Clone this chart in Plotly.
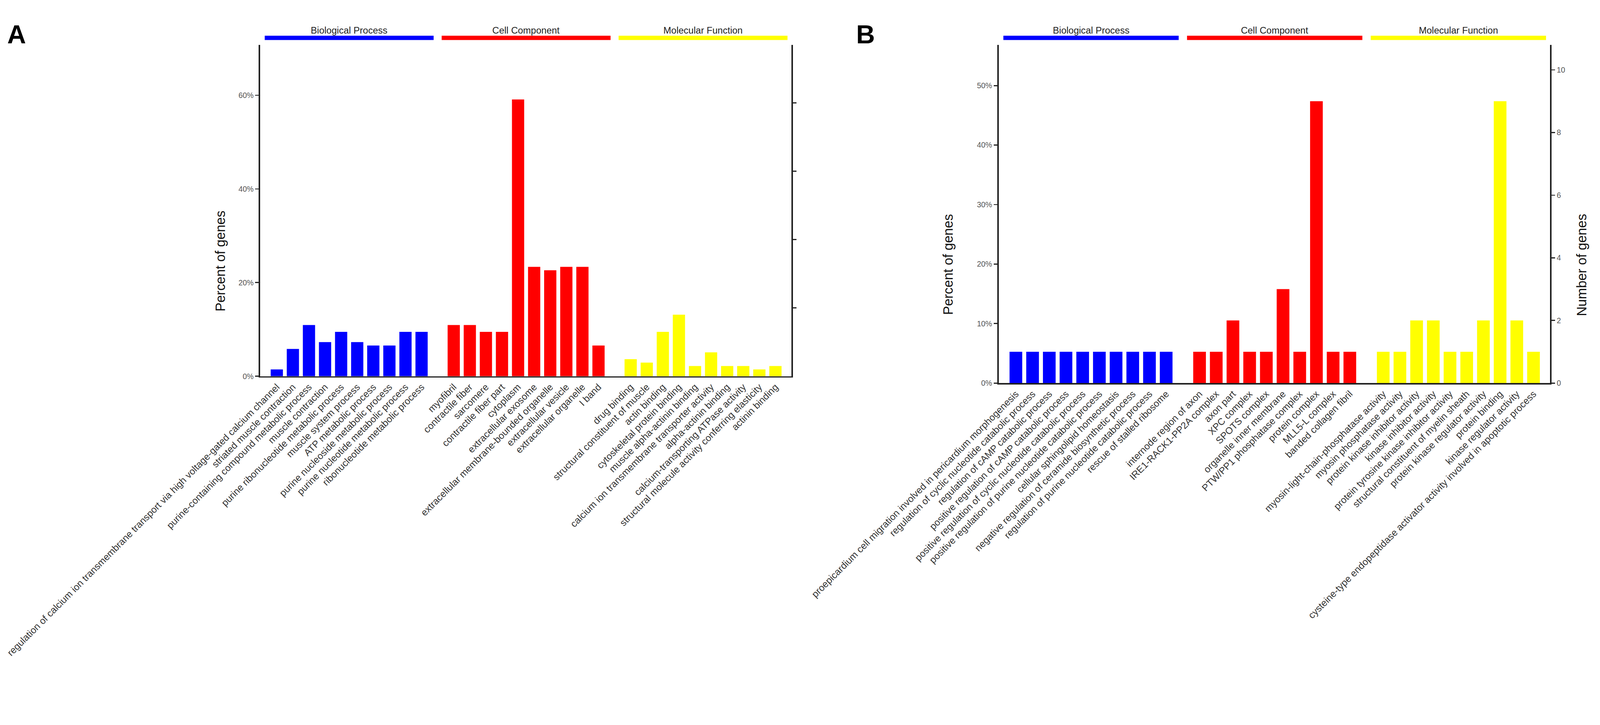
import plotly.graph_objects as go

W, H = 4433, 1857
FONT = "Liberation Sans, Arial, sans-serif"

group_names = ["Biological Process", "Cell Component", "Molecular Function"]
group_colors = ["#0000FF", "#FF0000", "#FFFF00"]

# ---- panel A ----
a_bp_terms = [
    "regulation of calcium ion transmembrane transport via high voltage-gated calcium channel",
    "striated muscle contraction",
    "purine-containing compound metabolic process",
    "muscle contraction",
    "purine ribonucleotide metabolic process",
    "muscle system process",
    "ATP metabolic process",
    "purine nucleoside metabolic process",
    "purine nucleotide metabolic process",
    "ribonucleotide metabolic process",
]
a_bp_pct = [1.46, 5.84, 10.95, 7.30, 9.49, 7.30, 6.57, 6.57, 9.49, 9.49]

a_cc_terms = [
    "myofibril",
    "contractile fiber",
    "sarcomere",
    "contractile fiber part",
    "cytoplasm",
    "extracellular exosome",
    "extracellular membrane-bounded organelle",
    "extracellular vesicle",
    "extracellular organelle",
    "I band",
]
a_cc_pct = [10.95, 10.95, 9.49, 9.49, 59.12, 23.36, 22.63, 23.36, 23.36, 6.57]

a_mf_terms = [
    "drug binding",
    "structural constituent of muscle",
    "actin binding",
    "cytoskeletal protein binding",
    "muscle alpha-actinin binding",
    "calcium ion transmembrane transporter activity",
    "alpha-actinin binding",
    "calcium-transporting ATPase activity",
    "structural molecule activity conferring elasticity",
    "actinin binding",
]
a_mf_pct = [3.65, 2.92, 9.49, 13.14, 2.19, 5.11, 2.19, 2.19, 1.46, 2.19]

# ---- panel B ----
b_bp_terms = [
    "proepicardium cell migration involved in pericardium morphogenesis",
    "regulation of cyclic nucleotide catabolic process",
    "regulation of cAMP catabolic process",
    "positive regulation of cAMP catabolic process",
    "positive regulation of cyclic nucleotide catabolic process",
    "positive regulation of purine nucleotide catabolic process",
    "cellular sphingolipid homeostasis",
    "negative regulation of ceramide biosynthetic process",
    "regulation of purine nucleotide catabolic process",
    "rescue of stalled ribosome",
]
b_bp_pct = [5.26, 5.26, 5.26, 5.26, 5.26, 5.26, 5.26, 5.26, 5.26, 5.26]

b_cc_terms = [
    "internode region of axon",
    "IRE1-RACK1-PP2A complex",
    "axon part",
    "XPC complex",
    "SPOTS complex",
    "organelle inner membrane",
    "PTW/PP1 phosphatase complex",
    "protein complex",
    "MLL5-L complex",
    "banded collagen fibril",
]
b_cc_pct = [5.26, 5.26, 10.53, 5.26, 5.26, 15.79, 5.26, 47.37, 5.26, 5.26]

b_mf_terms = [
    "myosin-light-chain-phosphatase activity",
    "myosin phosphatase activity",
    "protein kinase inhibitor activity",
    "kinase inhibitor activity",
    "protein tyrosine kinase inhibitor activity",
    "structural constituent of myelin sheath",
    "protein kinase regulator activity",
    "protein binding",
    "kinase regulator activity",
    "cysteine-type endopeptidase activator activity involved in apoptotic process",
]
b_mf_pct = [5.26, 5.26, 10.53, 10.53, 5.26, 5.26, 10.53, 47.37, 10.53, 5.26]

a_pct_ticks = [0, 20, 40, 60]
a_count_ticks = [20, 40, 60, 80]
b_pct_ticks = [0, 10, 20, 30, 40, 50]
b_count_ticks = [0, 2, 4, 6, 8, 10]

fig = go.Figure()


def add_panel(xa, ya, ya2, terms, pcts, x_dom, y_dom, pct_max, pct_ticks,
              count_ratio, count_ticks, count_labels):
    tickvals, ticktext = [], []
    for g, (tl, vl) in enumerate(zip(terms, pcts)):
        xs = [g * 11 + i for i in range(len(tl))]
        tickvals += xs
        ticktext += tl
        fig.add_trace(go.Bar(
            x=xs, y=vl, xaxis=xa, yaxis=ya,
            marker=dict(color=group_colors[g], line=dict(width=0)),
            width=0.76, showlegend=False, hovertext=tl,
        ))
        # group header line and title
        fig.add_shape(type="line", xref=xa, yref="paper",
                      x0=g * 11 - 0.75, x1=g * 11 + 9.75, y0=0.9435, y1=0.9435,
                      line=dict(color=group_colors[g], width=12))
        fig.add_annotation(text=group_names[g], xref=xa, yref="paper",
                           x=g * 11 + 4.5, y=0.964, showarrow=False,
                           font=dict(family=FONT, size=26, color="#222"))
    fig.add_trace(go.Scatter(x=[0], y=[0], xaxis=xa, yaxis=ya2, mode="markers",
                             marker=dict(opacity=0), showlegend=False,
                             hoverinfo="skip"))
    xkey = "xaxis" + xa[1:]
    ykey = "yaxis" + ya[1:]
    y2key = "yaxis" + ya2[1:]
    fig.update_layout(**{
        xkey: dict(domain=x_dom, anchor=ya, range=[-1.03, 32.0],
                   tickmode="array", tickvals=tickvals, ticktext=ticktext,
                   tickangle=-45, ticks="", showline=True, linecolor="#222",
                   linewidth=4, showgrid=False, zeroline=False, automargin=False,
                   tickfont=dict(family=FONT, size=26.5, color="#333")),
        ykey: dict(domain=y_dom, anchor=xa, range=[0, pct_max],
                   tickmode="array", tickvals=pct_ticks,
                   ticktext=[f"{t}%" for t in pct_ticks],
                   ticks="outside", ticklen=10, tickwidth=3, tickcolor="#222",
                   showline=True, linecolor="#222", linewidth=4,
                   showgrid=False, zeroline=False, automargin=False,
                   tickfont=dict(family=FONT, size=21, color="#555")),
        y2key: dict(overlaying=ya, anchor=xa, side="right",
                    range=[0, pct_max * count_ratio],
                    tickmode="array", tickvals=count_ticks,
                    ticktext=[str(t) for t in count_ticks] if count_labels else
                    ["" for _ in count_ticks],
                    ticks="outside", ticklen=10, tickwidth=3, tickcolor="#222",
                    showline=True, linecolor="#222", linewidth=4,
                    showgrid=False, zeroline=False, automargin=False,
                    tickfont=dict(family=FONT, size=21, color="#555")),
    })


add_panel("x", "y", "y3",
          [a_bp_terms, a_cc_terms, a_mf_terms], [a_bp_pct, a_cc_pct, a_mf_pct],
          [721 / W, 2193 / W], [1 - 1043 / H, 1 - 124 / H], 70.8, a_pct_ticks,
          1.37, a_count_ticks, False)
add_panel("x2", "y2", "y4",
          [b_bp_terms, b_cc_terms, b_mf_terms], [b_bp_pct, b_cc_pct, b_mf_pct],
          [2767 / W, 4295 / W], [1 - 1062 / H, 1 - 125 / H], 56.8, b_pct_ticks,
          0.19, b_count_ticks, True)

# axis titles and panel letters
for txt, x, y in [("Percent of genes", 589 / W, 1 - 582 / H),
                  ("Percent of genes", 2628 / W, 1 - 591 / H),
                  ("Number of genes", 4406 / W, 1 - 591 / H)]:
    fig.add_annotation(text=txt, xref="paper", yref="paper", x=x, y=y,
                       textangle=-90, showarrow=False,
                       font=dict(family=FONT, size=37, color="#111"))

for txt, x in [("A", 18 / W), ("B", 2370 / W)]:
    fig.add_annotation(text=f"<b>{txt}</b>", xref="paper", yref="paper",
                       x=x, y=1 - 53 / H, xanchor="left", showarrow=False,
                       font=dict(family=FONT, size=72, color="#000"))

fig.update_layout(
    width=W, height=H,
    margin=dict(l=0, r=0, t=0, b=0),
    paper_bgcolor="white", plot_bgcolor="white",
    bargap=0.2,
    font=dict(family=FONT),
)

# fit the fixed-size figure into whatever viewport the page gets
fit_js = """
var gd = document.getElementById('{plot_id}');
document.documentElement.style.margin = '0';
document.body.style.margin = '0';
document.body.style.overflow = 'hidden';
var s = Math.min(window.innerWidth / %d, window.innerHeight / %d);
gd.style.transformOrigin = '0 0';
gd.style.transform = 'scale(' + s + ')';
""" % (W, H)

fig.write_html("out.html", post_script=fit_js,
               config={"displayModeBar": False})
